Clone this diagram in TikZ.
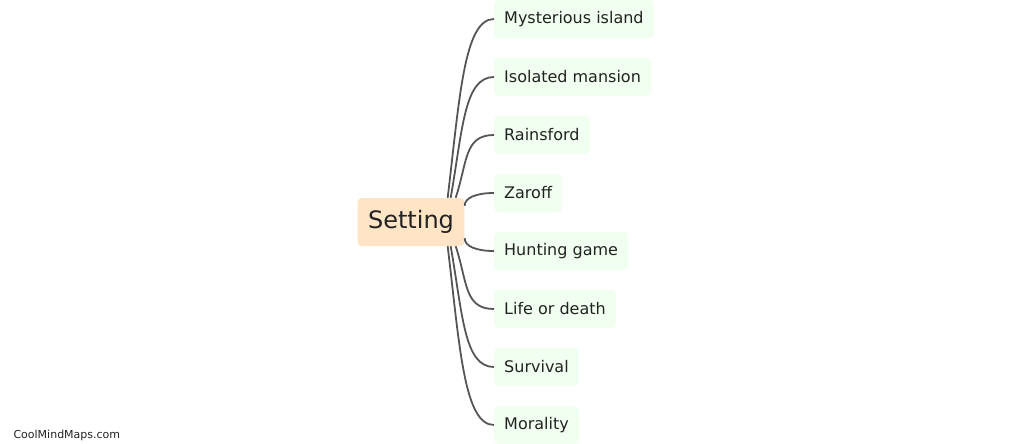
\documentclass[tikz,border=0pt]{standalone}
\usepackage{fontspec}
\setmainfont{DejaVu Sans}
\usepackage{tikz}
\usetikzlibrary{positioning}

\definecolor{rootfill}{HTML}{FFE4C6}
\definecolor{leaffill}{HTML}{F0FFF0}
\definecolor{linkgray}{HTML}{555555}
\definecolor{textdark}{HTML}{222222}

\tikzset{
  rootbox/.style={fill=rootfill,rounded corners=4pt,inner xsep=10.5pt,inner ysep=0pt,
    minimum height=48pt,text=textdark,font=\fontsize{24}{28}\selectfont},
  leafbox/.style={fill=leaffill,rounded corners=4pt,inner xsep=10pt,inner ysep=0pt,
    minimum height=38pt,anchor=west,text=textdark,font=\fontsize{16}{19}\selectfont},
  link/.style={draw=linkgray,line width=1.8pt}
}

\begin{document}
\begin{tikzpicture}[x=1pt,y=1pt]
\useasboundingbox (0,0) rectangle (1023,-444);
% root and leaves
\node[rootbox] (root) at (411,-222) {Setting};
\foreach \n/\t/\y in {mys/Mysterious island/19, iso/Isolated mansion/77,
    rai/Rainsford/135, zar/Zaroff/193, hun/Hunting game/251,
    lif/Life or death/309, sur/Survival/367, mor/Morality/425}
  \node[leafbox] (\n) at (494,-\y) {\t};
% connectors
\foreach \n/\dx/\h in {mys/-17/100, iso/-14/68, rai/-9/36}
  \draw[link] ([xshift=\dx pt]root.north east) .. controls +(12,\h) and +(-30,0) .. (\n.west);
\foreach \n/\dx/\h in {lif/-9/36, sur/-14/68, mor/-17/100}
  \draw[link] ([xshift=\dx pt]root.south east) .. controls +(12,-\h) and +(-30,0) .. (\n.west);
\draw[link] ([yshift=-8pt]root.north east) .. controls +(0,8) and +(-18,0) .. (zar.west);
\draw[link] ([yshift=8pt]root.south east) .. controls +(0,-8) and +(-18,0) .. (hun.west);
% watermark
\node[anchor=west,text=textdark,font=\fontsize{11}{13}\selectfont] (mark) at (10,-435) {CoolMindMaps.com};
\end{tikzpicture}
\end{document}
